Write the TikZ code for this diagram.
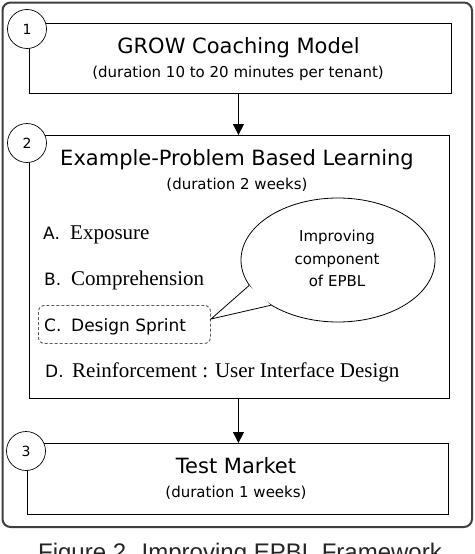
\documentclass[tikz,border=0pt]{standalone}
\usepackage{fontspec}
\setmainfont{Liberation Serif}
\setsansfont{DejaVu Sans}
\newfontfamily\capfont{Liberation Sans}
\usetikzlibrary{arrows.meta,shapes.geometric}
\tikzset{
  box/.style={draw=black, line width=0.9pt, anchor=north west, inner sep=0pt, fill=white},
  numc/.style={circle, draw=black, line width=0.7pt, fill=white, minimum size=39pt, inner sep=0pt, font=\sffamily\fontsize{14}{14}\selectfont},
  title/.style={anchor=base, inner sep=0pt, font=\sffamily\fontsize{21}{21}\selectfont, text=black},
  sub/.style={anchor=base, inner sep=0pt, font=\sffamily\fontsize{15}{15}\selectfont, text=black},
  item/.style={anchor=base west, inner sep=0pt, font=\rmfamily\fontsize{21}{21}\selectfont, text=black},
  arr/.style={line width=0.9pt, -{Triangle[length=11pt,width=11pt]}},
  frame/.style={draw=black!75, line width=2pt, rounded corners=8pt, anchor=north west, inner sep=0pt},
  dashbox/.style={draw=black!65, dash pattern=on 3pt off 2pt, line width=0.9pt, rounded corners=6pt, anchor=north west, inner sep=0pt},
  callout/.style={ellipse, draw=black, line width=0.8pt, minimum width=194pt, minimum height=124pt, inner sep=0pt},
}
\newcommand\itemlab[1]{\makebox[27pt][l]{\sffamily\fontsize{17}{17}\selectfont #1}}
\begin{document}
\begin{tikzpicture}[x=1pt,y=-1pt]
\useasboundingbox (0,0) rectangle (474,554);
\clip (0,0) rectangle (474,554);
\fill[white] (0,0) rectangle (474,554);
\node[frame, minimum width=469.5pt, minimum height=524.5pt] (frame) at (1.5,1.5) {};
% boxes
\node[box, minimum width=422pt, minimum height=70pt] (b1) at (29,23) {};
\node[box, minimum width=420pt, minimum height=263pt] (b2) at (29,135) {};
\node[box, minimum width=421pt, minimum height=71pt] (b3) at (27,443) {};
% number circles
\node[numc] (n1) at (27,29) {1};
\node[numc] (n2) at (27,143) {2};
\node[numc] (n3) at (26,451) {3};
% box 1 text
\node[title] (t1) at (238.5,53) {GROW Coaching Model};
\node[sub] (s1) at (238,77) {(duration 10 to 20 minutes per tenant)};
% box 2 text
\node[title] (t2) at (237,165) {Example-Problem Based Learning};
\node[sub] (s2) at (237,189) {(duration 2 weeks)};
\node[item] (ia) at (43,239) {\itemlab{A.}Exposure};
\node[item] (ib) at (44,285) {\itemlab{B.}Comprehension};
\node[dashbox, minimum width=172pt, minimum height=38pt] (cbox) at (38,305) {};
\node[item, font=\sffamily\fontsize{17}{17}\selectfont] (ic) at (44,331) {\itemlab{C.}Design Sprint};
\node[item] (id) at (45,377) {\itemlab{D.}Reinforcement : User Interface Design};
% callout
\node[callout] (ell) at (338,260) {};
\coordinate (tip) at (211,319);
\fill[white] (ell.196.9) -- (tip) -- (ell.214.9) -- cycle;
\draw[line width=0.8pt, line join=miter] (ell.196.9) -- (tip) -- (ell.214.9);
\node[sub] (e1) at (337,241.5) {Improving};
\node[sub] (e2) at (337,264) {component};
\node[sub] (e3) at (337,286.5) {of EPBL};
% box 3 text
\node[title] (t3) at (236,473) {Test Market};
\node[sub] (s3) at (236,497) {(duration 1 weeks)};
% arrows
\draw[arr] ([xshift=-2pt]b1.south) -- ([xshift=-2pt]b1.south |- b2.north);
\draw[arr] ([xshift=-1pt]b2.south) -- ([xshift=-1pt]b2.south |- b3.north);
% caption
\node[anchor=base, inner sep=0pt, font=\capfont\fontsize{24}{24}\selectfont, text=black!85] (cap) at (240,560) {Figure 2. Improving EPBL Framework};
\end{tikzpicture}
\end{document}
